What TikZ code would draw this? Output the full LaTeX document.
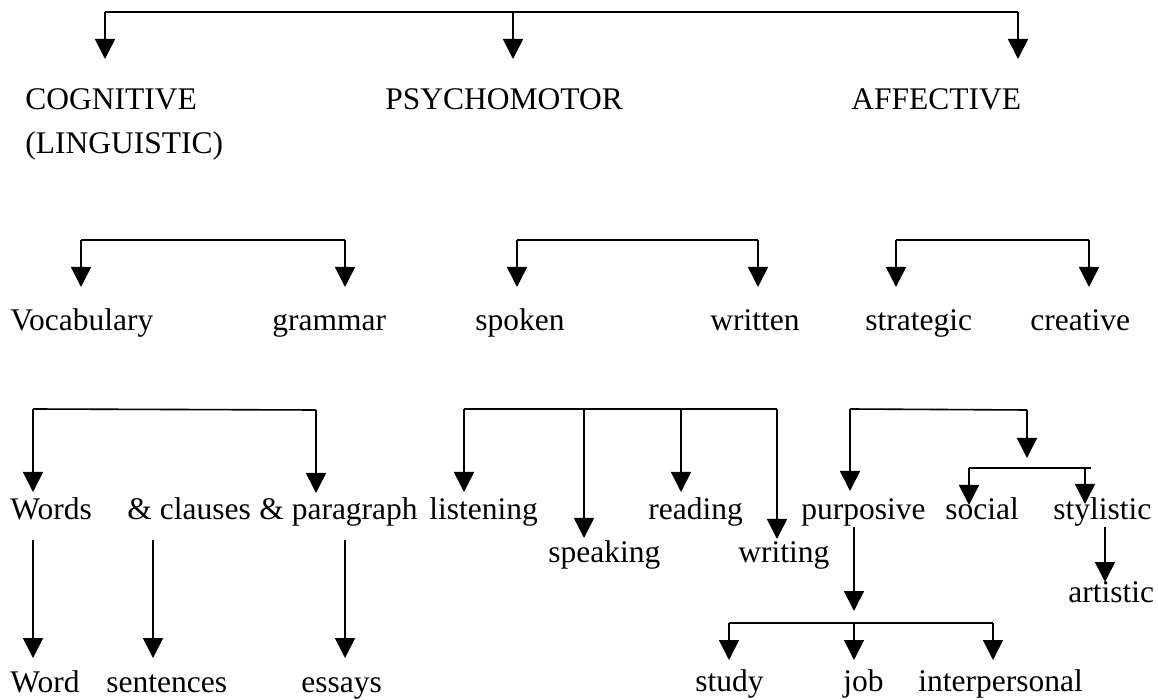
\documentclass[tikz,border=0pt]{standalone}
\usepackage{fontspec}
\setmainfont{Liberation Serif}
\usetikzlibrary{arrows.meta}
\begin{document}
\begin{tikzpicture}[x=0.5pt,y=-0.5pt,
  lbl/.style={anchor=base west, inner sep=0pt, font=\fontsize{15.75pt}{19pt}\selectfont},
  conn/.style={line width=0.8pt},
  arr/.style={conn, -{Triangle[width=10pt,length=10pt]}}]
\useasboundingbox (0,0) rectangle (1158,700);

% ---------- texts ----------
\node[lbl] (cog)  at (25,110)  {COGNITIVE};
\node[lbl] (ling) at (25,154)  {(LINGUISTIC)};
\node[lbl] (psy)  at (385,110) {PSYCHOMOTOR};
\node[lbl] (aff)  at (851,110) {AFFECTIVE};

\node[lbl] (voc)   at (10,331)   {Vocabulary};
\node[lbl] (gram)  at (272,331)  {grammar};
\node[lbl] (spok)  at (475,331)  {spoken};
\node[lbl] (writ)  at (710,331)  {written};
\node[lbl] (strat) at (865,331)  {strategic};
\node[lbl] (crea)  at (1030,331) {creative};

\node[lbl] (words)  at (10,520)   {Words};
\node[lbl] (claus)  at (127,520)  {\& clauses};
\node[lbl] (parag)  at (259,520)  {\& paragraph};
\node[lbl] (listen) at (429,520)  {listening};
\node[lbl] (read)   at (648,520)  {reading};
\node[lbl] (purp)   at (801,520)  {purposive};
\node[lbl] (soc)    at (945,520)  {social};
\node[lbl] (styl)   at (1053,520) {stylistic};
\node[lbl] (speak)  at (548,562)  {speaking};
\node[lbl] (wrtg)   at (738,562)  {writing};
\node[lbl] (art)    at (1068,603) {artistic};

\node[lbl] (word)   at (10,692)  {Word};
\node[lbl] (sent)   at (106,692) {sentences};
\node[lbl] (ess)    at (301,692) {essays};
\node[lbl] (study)  at (695,691) {study};
\node[lbl] (job)    at (843,691) {job};
\node[lbl] (interp) at (918,691) {interpersonal};

% ---------- level 1 ----------
\coordinate (t0) at (105,12);
\coordinate (t1) at (513,12);
\coordinate (t2) at (1018,12);
\coordinate (cogT) at (105,59);
\coordinate (psyT) at (513,59);
\coordinate (affT) at (1018,59);
\draw[conn] (t0) -- (t2);
\draw[arr] (t0) -- (cogT);
\draw[arr] (t1) -- (psyT);
\draw[arr] (t2) -- (affT);

% ---------- level 2 ----------
\coordinate (c0) at (81,240);  \coordinate (c1) at (345,240);
\coordinate (vocT) at (81,287); \coordinate (gramT) at (345,287);
\draw[conn] (c0) -- (c1);
\draw[arr] (c0) -- (vocT);
\draw[arr] (c1) -- (gramT);

\coordinate (p0) at (517,240);  \coordinate (p1) at (758,240);
\coordinate (spokT) at (517,287); \coordinate (writT) at (758,287);
\draw[conn] (p0) -- (p1);
\draw[arr] (p0) -- (spokT);
\draw[arr] (p1) -- (writT);

\coordinate (a0) at (896,240);  \coordinate (a1) at (1089,240);
\coordinate (stratT) at (896,287); \coordinate (creaT) at (1089,287);
\draw[conn] (a0) -- (a1);
\draw[arr] (a0) -- (stratT);
\draw[arr] (a1) -- (creaT);

% ---------- level 3: vocabulary / grammar ----------
\coordinate (v0) at (33,409);  \coordinate (v1) at (316,410);
\coordinate (wordsT) at (33,492); \coordinate (paragT) at (316,493);
\draw[conn] (v0) -- (v1);
\draw[arr] (v0) -- (wordsT);
\draw[arr] (v1) -- (paragT);

% ---------- level 3: skills ----------
\coordinate (s0) at (464,409); \coordinate (s1) at (584,409);
\coordinate (s2) at (681,409); \coordinate (s3) at (777,409);
\coordinate (listenT) at (464,492); \coordinate (speakT) at (584,538);
\coordinate (readT) at (681,492);   \coordinate (wrtgT) at (777,539);
\draw[conn] (s0) -- (s3);
\draw[arr] (s0) -- (listenT);
\draw[arr] (s1) -- (speakT);
\draw[arr] (s2) -- (readT);
\draw[arr] (s3) -- (wrtgT);

% ---------- level 3: affective ----------
\coordinate (f0) at (850,409); \coordinate (f1) at (1027,410);
\coordinate (purpT) at (850,491); \coordinate (subT) at (1027,458);
\draw[conn] (f0) -- (f1);
\draw[arr] (f0) -- (purpT);
\draw[arr] (f1) -- (subT);

\coordinate (g0) at (969,468); \coordinate (g1) at (1085,468); \coordinate (g2) at (1091,468);
\coordinate (socT) at (969,505); \coordinate (stylT) at (1085,504);
\draw[conn] (g0) -- (g2);
\draw[arr] (g0) -- (socT);
\draw[arr] (g1) -- (stylT);

\coordinate (stylB) at (1105,527); \coordinate (artT) at (1105,582);
\draw[arr] (stylB) -- (artT);

\coordinate (purpB) at (854,527); \coordinate (purpD) at (854,611);
\draw[arr] (purpB) -- (purpD);

\coordinate (b0) at (729,623); \coordinate (b1) at (854,623); \coordinate (b2) at (993,623);
\coordinate (studyT) at (729,660); \coordinate (jobT) at (854,660); \coordinate (interpT) at (993,660);
\draw[conn] (b0) -- (b2);
\draw[arr] (b0) -- (studyT);
\draw[arr] (b1) -- (jobT);
\draw[arr] (b2) -- (interpT);

% ---------- level 4: lower left ----------
\coordinate (l0) at (33,540);  \coordinate (l1) at (153,540); \coordinate (l2) at (345,540);
\coordinate (wordT) at (33,658); \coordinate (sentT) at (153,658); \coordinate (essT) at (345,658);
\draw[arr] (l0) -- (wordT);
\draw[arr] (l1) -- (sentT);
\draw[arr] (l2) -- (essT);
\end{tikzpicture}
\end{document}
